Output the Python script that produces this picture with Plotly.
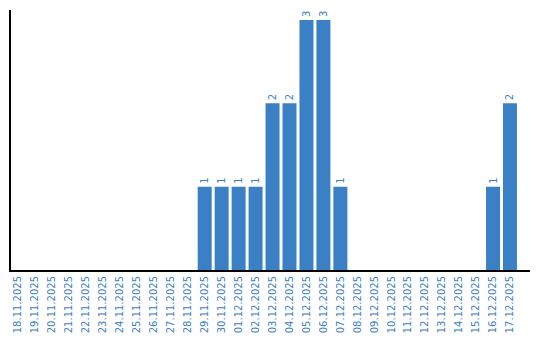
import plotly.graph_objects as go

dates = ["18.11.2025", "19.11.2025", "20.11.2025", "21.11.2025", "22.11.2025",
         "23.11.2025", "24.11.2025", "25.11.2025", "26.11.2025", "27.11.2025",
         "28.11.2025", "29.11.2025", "30.11.2025", "01.12.2025", "02.12.2025",
         "03.12.2025", "04.12.2025", "05.12.2025", "06.12.2025", "07.12.2025",
         "08.12.2025", "09.12.2025", "10.12.2025", "11.12.2025", "12.12.2025",
         "13.12.2025", "14.12.2025", "15.12.2025", "16.12.2025", "17.12.2025"]
counts = [0, 0, 0, 0, 0, 0, 0, 0, 0, 0, 0,
          1, 1, 1, 1, 2, 2, 3, 3, 1,
          0, 0, 0, 0, 0, 0, 0, 0, 1, 2]

labels = [str(v) if v > 0 else "" for v in counts]
blue = "#3b7fc4"

fig = go.Figure(go.Bar(
    x=list(range(len(dates))), y=counts, text=labels,
    textposition="outside", textangle=-90,
    textfont=dict(family="DejaVu Sans", size=10, color=blue),
    marker=dict(color=blue, line=dict(width=0)),
    cliponaxis=False, constraintext="none",
))

fig.update_layout(
    width=540, height=340,
    margin=dict(l=11, r=10, t=10, b=70),
    paper_bgcolor="white", plot_bgcolor="white",
    bargap=0.175, showlegend=False,
    xaxis=dict(
        tickmode="array", tickvals=list(range(len(dates))), ticktext=dates,
        tickangle=-90, tickfont=dict(family="DejaVu Sans", size=10, color=blue),
        range=[-0.42, 30.18], showline=True, linecolor="black", linewidth=2,
        showgrid=False, zeroline=False, ticks="", automargin=False,
    ),
    yaxis=dict(
        range=[0, 3.12], showline=True, linecolor="black", linewidth=2,
        showgrid=False, zeroline=False, showticklabels=False, ticks="",
        automargin=False,
    ),
)

fig.write_html("out.html")
